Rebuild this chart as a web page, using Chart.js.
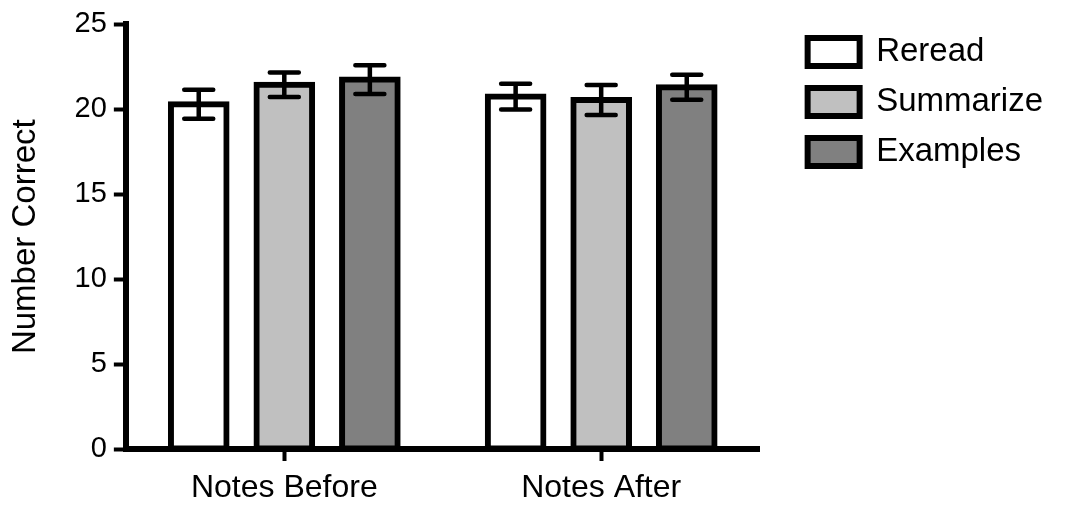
<!DOCTYPE html>
<html lang="en">
  <head>
    <meta charset="utf-8" />
    <style>
      * { margin: 0; padding: 0; }
      body { background: white; }
      .chartBox { width: 1067px; height: 506px; }
    </style>
  </head>
  <body>
    <div class="chartBox">
      <canvas id="myChart"></canvas>
    </div>
    <script src="https://cdn.jsdelivr.net/npm/chart.js/dist/chart.umd.min.js"></script>
    <script>
      // data (mean and SEM)
      const categories = ["Notes Before", "Notes After"];
      const seriesNames = ["Reread", "Summarize", "Examples"];
      const rereadMeans = [20.3, 20.75];
      const summarizeMeans = [21.45, 20.55];
      const examplesMeans = [21.75, 21.3];
      const rereadErr = [0.85, 0.76];
      const summarizeErr = [0.72, 0.88];
      const examplesErr = [0.85, 0.73];
      const yTicks = [0, 5, 10, 15, 20, 25];

      const fills = ["#ffffff", "#c0c0c0", "#808080"];
      const means = [rereadMeans, summarizeMeans, examplesMeans];
      const errs = [rereadErr, summarizeErr, examplesErr];

      const font = "'Liberation Sans', Arial, sans-serif";

      // error bars drawn on top of the bars
      const errorBars = {
        id: "errorBars",
        afterDatasetsDraw(chart) {
          const { ctx, scales: { y } } = chart;
          ctx.save();
          ctx.strokeStyle = "#000";
          ctx.lineWidth = 4.5;
          ctx.lineCap = "round";
          chart.data.datasets.forEach((ds, i) => {
            const meta = chart.getDatasetMeta(i);
            meta.data.forEach((bar, j) => {
              const v = ds.data[j];
              const e = errs[i][j];
              const top = y.getPixelForValue(v + e);
              const bot = y.getPixelForValue(v - e);
              const half = 14.5;
              ctx.beginPath();
              ctx.moveTo(bar.x, top);
              ctx.lineTo(bar.x, bot);
              ctx.moveTo(bar.x - half, top);
              ctx.lineTo(bar.x + half, top);
              ctx.moveTo(bar.x - half, bot);
              ctx.lineTo(bar.x + half, bot);
              ctx.stroke();
            });
          });
          ctx.restore();
        },
      };

      const data = {
        labels: categories,
        datasets: seriesNames.map((name, i) => ({
          label: name,
          data: means[i],
          backgroundColor: fills[i],
          borderColor: "#000",
          borderWidth: 6,
          borderSkipped: false,
          // stroke centred on the value, like the original plot
          inflateAmount: 3,
          categoryPercentage: 0.81,
          barPercentage: 0.65,
        })),
      };

      const config = {
        type: "bar",
        data,
        plugins: [errorBars],
        options: {
          responsive: true,
          maintainAspectRatio: false,
          animation: false,
          layout: { padding: { top: 4, right: 14, left: 6, bottom: 0 } },
          scales: {
            x: {
              afterFit: (axis) => {
                axis.height = 57;
              },
              grid: {
                display: true,
                offset: false,
                drawOnChartArea: false,
                drawTicks: true,
                tickLength: 12,
                tickWidth: 4,
                tickColor: "#000",
              },
              border: { display: true, color: "#000", width: 6 },
              ticks: { color: "#000", font: { family: font, size: 32 }, padding: 8 },
            },
            y: {
              min: 0,
              max: 25,
              afterBuildTicks: (axis) => {
                axis.ticks = yTicks.map((v) => ({ value: v }));
              },
              grid: {
                display: true,
                drawOnChartArea: false,
                drawTicks: true,
                tickLength: 12,
                tickWidth: 4,
                tickColor: "#000",
              },
              border: { display: true, color: "#000", width: 6 },
              ticks: { color: "#000", font: { family: font, size: 29 }, padding: 7 },
              title: {
                display: true,
                text: "Number Correct",
                color: "#000",
                font: { family: font, size: 33 },
                padding: { top: 0, bottom: 22 },
              },
            },
            // empty axis, only keeps a gap between the plot and the legend
            gap: {
              position: "right",
              display: true,
              afterFit: (axis) => {
                axis.width = 31;
              },
              grid: { display: false },
              border: { display: false },
              ticks: { display: false },
            },
          },
          plugins: {
            legend: {
              position: "right",
              align: "start",
              maxWidth: 290,
              title: { display: true, text: "", font: { size: 12 }, padding: 0 },
              labels: {
                color: "#000",
                font: { family: font, size: 33 },
                boxWidth: 52,
                boxHeight: 28,
                padding: 17,
              },
            },
            tooltip: { enabled: false },
          },
        },
      };

      const myChart = new Chart(document.getElementById("myChart"), config);
    </script>
  </body>
</html>
